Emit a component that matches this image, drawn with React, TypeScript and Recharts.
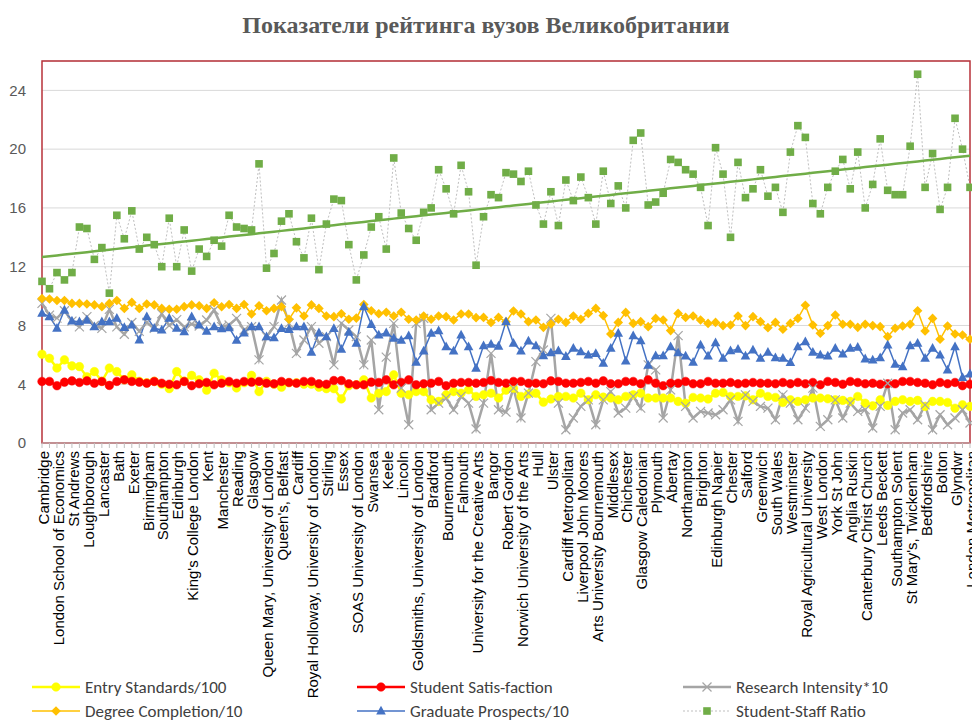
import React from "react";
import {
  ComposedChart,
  Line,
  XAxis,
  YAxis,
  CartesianGrid,
  ReferenceArea,
} from "recharts";

// university order as in the ranking (every other name is shown on the axis)
const UNIVERSITIES = [
  "Cambridge", "Oxford", "London School of Economics", "Imperial College London", "St Andrews",
  "Durham", "Loughborough", "Warwick", "Lancaster", "University College London",
  "Bath", "Surrey", "Exeter", "Leicester", "Birmingham",
  "York", "Southampton", "Bristol", "Edinburgh", "Nottingham",
  "King's College London", "Sussex", "Kent", "Leeds", "Manchester",
  "Newcastle", "Reading", "Sheffield", "Glasgow", "Aston",
  "Queen Mary, University of London", "East Anglia", "Queen's, Belfast", "Liverpool", "Cardiff",
  "Aberdeen", "Royal Holloway, University of London", "Dundee", "Stirling", "City",
  "Essex", "Heriot-Watt", "SOAS University of London", "Strathclyde", "Swansea",
  "Coventry", "Keele", "Harper Adams", "Lincoln", "Nottingham Trent",
  "Goldsmiths, University of London", "Oxford Brookes", "Bradford", "Aberystwyth", "Bournemouth",
  "Huddersfield", "Falmouth", "Sheffield Hallam", "University for the Creative Arts", "Edge Hill",
  "Bangor", "Portsmouth", "Robert Gordon", "Northumbria", "Norwich University of the Arts",
  "Manchester Metropolitan", "Hull", "Gloucestershire", "Ulster", "Kingston",
  "Cardiff Metropolitan", "Winchester", "Liverpool John Moores", "Derby", "Arts University Bournemouth",
  "Queen Margaret", "Middlesex", "Teesside", "Chichester", "Liverpool Hope",
  "Glasgow Caledonian", "Worcester", "Plymouth", "Bath Spa", "Abertay",
  "Birmingham City", "Northampton", "Staffordshire", "Brighton", "Central Lancashire",
  "Edinburgh Napier", "Sunderland", "Chester", "Hertfordshire", "Salford",
  "West of England", "Greenwich", "Bishop Grosseteste", "South Wales", "Cumbria",
  "Westminster", "Wolverhampton", "Royal Agricultural University", "De Montfort", "West London",
  "Roehampton", "York St John", "Leeds Trinity", "Anglia Ruskin", "Newman",
  "Canterbury Christ Church", "London South Bank", "Leeds Beckett", "Highlands and Islands", "Southampton Solent",
  "West of Scotland", "St Mary's, Twickenham", "Buckinghamshire New", "Bedfordshire", "East London",
  "Bolton", "Wales Trinity St David", "Glyndwr", "Suffolk", "London Metropolitan",
];

const ENTRY_STANDARDS = [
  6.04, 5.77, 5.1, 5.66, 5.25, 5.2, 4.5, 4.86, 4.2, 5.1,
  4.86, 4.3, 4.64, 4.2, 4.1, 4.2, 4.0, 3.7, 4.86, 4.2,
  4.6, 4.3, 3.6, 4.75, 4.3, 4.1, 3.75, 4.1, 4.6, 3.5,
  4.2, 4.0, 3.8, 4.1, 4.1, 4.0, 4.0, 3.8, 3.7, 3.7,
  3.0, 3.9, 3.96, 4.3, 3.06, 3.39, 3.5, 4.64, 3.39, 3.28,
  3.5, 3.5, 2.94, 2.83, 3.28, 3.5, 3.39, 3.62, 3.17, 3.28,
  3.39, 3.06, 3.6, 3.73, 3.17, 3.33, 3.39, 2.78, 2.99, 3.17,
  3.17, 3.06, 3.39, 2.94, 3.28, 3.12, 3.06, 2.94, 3.17, 3.28,
  3.39, 3.06, 3.06, 3.06, 3.06, 2.83, 2.71, 3.1, 3.06, 2.99,
  3.39, 3.44, 3.17, 3.17, 3.21, 2.94, 3.39, 3.17, 3.1, 2.76,
  2.94, 2.83, 2.94, 3.06, 3.06, 3.01, 2.94, 2.9, 2.83, 3.17,
  2.71, 2.53, 2.94, 2.56, 2.83, 2.94, 2.83, 2.9, 2.49, 2.83,
  2.83, 2.76, 2.37, 2.6, 2.49,
];

const STUDENT_SATISFACTION = [
  4.19, 4.19, 3.9, 4.14, 4.23, 4.12, 4.23, 4.07, 4.19, 3.92,
  4.19, 4.3, 4.19, 4.14, 4.07, 4.19, 4.07, 4.0, 3.96, 4.19,
  3.9, 4.03, 4.12, 3.96, 4.07, 4.19, 4.07, 4.19, 4.14, 4.19,
  4.07, 4.03, 4.19, 4.12, 4.07, 4.19, 4.19, 4.03, 4.0, 4.25,
  4.25, 4.03, 3.96, 3.96, 4.14, 4.12, 4.3, 3.96, 4.12, 4.3,
  3.96, 4.03, 4.07, 4.19, 3.9, 4.07, 4.12, 4.12, 4.07, 4.12,
  4.25, 4.12, 4.07, 4.19, 4.19, 4.07, 4.07, 4.03, 4.23, 4.19,
  4.07, 4.07, 4.12, 4.19, 4.07, 4.23, 4.03, 4.03, 4.19, 4.19,
  4.03, 4.3, 4.07, 3.9, 4.07, 4.07, 4.19, 4.03, 4.03, 4.19,
  4.07, 4.07, 4.12, 4.03, 4.07, 4.12, 4.07, 4.07, 4.03, 4.12,
  4.03, 4.12, 4.03, 4.12, 3.96, 4.19, 4.12, 4.0, 4.19, 4.12,
  4.03, 4.07, 4.0, 4.03, 4.03, 4.19, 4.19, 4.12, 4.07, 3.96,
  4.12, 4.03, 4.12, 3.9, 4.0,
];

const RESEARCH_INTENSITY = [
  9.5, 8.7, 8.5, 9.0, 8.3, 7.9, 8.6, 8.0, 7.8, 9.1,
  7.9, 7.4, 8.2, 7.6, 8.2, 7.8, 8.8, 8.0, 8.4, 7.9,
  8.1, 7.96, 8.37, 9.05, 7.92, 8.03, 8.48, 7.69, 7.92, 5.66,
  7.24, 7.92, 9.73, 8.14, 6.1, 7.01, 7.92, 6.79, 7.24, 5.32,
  8.14, 7.69, 7.24, 5.32, 7.01, 2.26, 5.84, 8.14, 3.73, 1.24,
  8.14, 8.48, 2.26, 2.71, 3.05, 2.26, 3.17, 2.71, 0.95, 2.71,
  6.1, 2.26, 2.1, 3.73, 1.7, 3.39, 5.54, 6.33, 8.48, 2.71,
  0.9, 1.7, 2.49, 2.94, 1.24, 2.94, 3.5, 2.04, 2.37, 3.17,
  2.37, 5.32, 4.98, 1.7, 3.62, 7.31, 2.49, 1.7, 2.15, 2.04,
  1.92, 2.26, 2.94, 1.47, 3.28, 2.83, 2.49, 2.37, 1.58, 3.28,
  2.71, 1.58, 2.37, 3.73, 1.13, 1.58, 2.94, 1.7, 2.71, 2.15,
  2.26, 1.02, 2.49, 4.07, 0.9, 2.04, 2.26, 1.58, 2.6, 0.9,
  1.92, 1.24, 1.7, 2.26, 1.36,
];

const DEGREE_COMPLETION = [
  9.84, 9.8, 9.7, 9.7, 9.5, 9.5, 9.46, 9.4, 9.28, 9.5,
  9.7, 9.16, 9.57, 9.16, 9.46, 9.4, 9.16, 9.1, 9.1, 9.28,
  9.4, 9.34, 9.16, 9.55, 9.27, 9.43, 9.16, 9.43, 8.78, 9.34,
  9.0, 9.16, 9.27, 8.42, 9.2, 8.64, 9.4, 9.16, 8.64, 8.6,
  8.8, 8.42, 8.5, 9.43, 9.0, 8.8, 8.9, 8.64, 8.9, 8.42,
  8.37, 8.64, 8.42, 8.64, 8.6, 8.37, 8.78, 8.78, 8.53, 8.55,
  8.2, 8.55, 8.25, 8.98, 8.78, 8.26, 8.37, 7.87, 8.1, 8.42,
  8.21, 8.64, 8.42, 8.82, 9.16, 8.67, 7.42, 8.21, 8.89, 8.14,
  8.26, 7.92, 8.48, 8.37, 7.65, 8.82, 8.55, 8.64, 8.37, 8.14,
  8.21, 7.99, 8.03, 8.64, 7.99, 8.6, 8.26, 7.85, 8.21, 7.74,
  8.14, 8.48, 9.38, 8.03, 7.47, 7.99, 8.71, 8.08, 8.08, 7.87,
  8.08, 7.99, 7.92, 7.24, 7.81, 7.96, 8.08, 9.0, 7.62, 8.48,
  7.06, 7.96, 7.42, 7.35, 7.06,
];

const GRADUATE_PROSPECTS = [
  8.83, 8.6, 7.81, 9.05, 8.31, 8.26, 8.37, 7.92, 8.26, 8.26,
  8.49, 7.86, 8.03, 7.01, 8.6, 7.81, 7.69, 8.49, 7.81, 7.58,
  8.6, 8.03, 7.62, 7.92, 7.78, 7.85, 7.0, 7.5, 7.92, 7.92,
  7.24, 7.17, 7.8, 7.74, 7.92, 7.92, 6.18, 7.5, 7.24, 7.8,
  6.38, 7.55, 6.8, 9.28, 8.08, 7.35, 7.5, 7.13, 7.0, 7.3,
  5.5, 6.27, 7.47, 7.65, 6.56, 6.27, 7.35, 6.56, 5.1, 6.63,
  6.72, 6.6, 8.26, 6.79, 6.27, 6.95, 6.63, 5.95, 6.15, 6.29,
  5.9, 6.45, 6.22, 6.0, 6.1, 5.43, 6.45, 7.47, 5.59, 7.3,
  6.97, 5.3, 5.95, 5.95, 6.56, 6.15, 5.93, 5.5, 6.67, 5.93,
  6.83, 5.77, 6.29, 6.38, 5.93, 6.33, 5.77, 6.18, 5.81, 5.77,
  5.48, 6.56, 6.9, 6.18, 6.0, 5.93, 6.45, 6.06, 6.45, 6.52,
  5.73, 5.66, 5.81, 6.67, 5.36, 5.2, 6.63, 6.79, 5.77, 6.45,
  6.0, 4.98, 6.56, 4.46, 4.71,
];

const STUDENT_STAFF_RATIO = [
  11.0, 10.5, 11.6, 11.1, 11.6, 14.7, 14.6, 12.5, 13.3, 10.2,
  15.5, 13.9, 15.8, 13.2, 14.0, 13.5, 12.0, 15.3, 12.0, 14.5,
  11.7, 13.2, 12.7, 13.8, 13.4, 15.5, 14.7, 14.6, 14.5, 19.0,
  11.9, 12.9, 15.1, 15.6, 13.7, 12.6, 15.3, 11.8, 14.9, 16.6,
  16.5, 13.5, 11.1, 12.8, 14.7, 15.4, 13.2, 19.4, 15.65, 14.6,
  13.8, 15.7, 16.0, 18.6, 17.3, 15.6, 18.9, 17.1, 12.1, 15.4,
  16.9, 16.7, 18.4, 18.3, 17.8, 18.5, 16.2, 14.9, 17.1, 14.8,
  17.9, 16.5, 18.1, 16.7, 14.9, 18.5, 16.3, 17.5, 16.0, 20.6,
  21.1, 16.2, 16.4, 17.0, 19.3, 19.1, 18.6, 18.3, 17.4, 14.8,
  20.1, 18.3, 14.0, 19.1, 16.7, 17.3, 18.6, 16.8, 17.4, 15.7,
  19.8, 21.6, 20.8, 16.3, 15.6, 17.4, 18.5, 19.3, 17.3, 19.8,
  16.0, 17.6, 20.7, 17.2, 16.9, 16.9, 20.2, 25.1, 17.4, 19.7,
  15.9, 17.4, 22.1, 20.0, 17.4,
];

const Y_TICKS = [0, 4, 8, 12, 16, 20, 24];

type Shape = "circle" | "diamond" | "triangle" | "square" | "cross";

const SERIES: {
  key: string;
  name: string;
  color: string;
  lineColor: string;
  width: number;
  dash?: string;
  shape: Shape;
}[] = [
  { key: "entry", name: "Entry Standards/100", color: "#FFFF00", lineColor: "#FFFF00", width: 2.5, shape: "circle" },
  { key: "satisfaction", name: "Student Satis-faction", color: "#FF0000", lineColor: "#FF0000", width: 2.5, shape: "circle" },
  { key: "research", name: "Research Intensity*10", color: "#A5A5A5", lineColor: "#A5A5A5", width: 2.5, shape: "cross" },
  { key: "completion", name: "Degree Completion/10", color: "#FFC000", lineColor: "#FFC000", width: 1.5, shape: "diamond" },
  { key: "prospects", name: "Graduate Prospects/10", color: "#4472C4", lineColor: "#4472C4", width: 1.5, shape: "triangle" },
  { key: "ssr", name: "Student-Staff Ratio", color: "#70AD47", lineColor: "#BFBFBF", width: 1, dash: "2 2", shape: "square" },
];

// linear trendline for student-staff ratio (least squares, like Excel)
const trendFit = (() => {
  const n = STUDENT_STAFF_RATIO.length;
  const mx = (n - 1) / 2;
  const my = STUDENT_STAFF_RATIO.reduce((a, b) => a + b, 0) / n;
  let sxy = 0;
  let sxx = 0;
  STUDENT_STAFF_RATIO.forEach((v, i) => {
    sxy += (i - mx) * (v - my);
    sxx += (i - mx) * (i - mx);
  });
  const slope = sxy / sxx;
  return { slope, intercept: my - slope * mx };
})();

const data = UNIVERSITIES.map((name, i) => ({
  name,
  entry: ENTRY_STANDARDS[i],
  satisfaction: STUDENT_SATISFACTION[i],
  research: RESEARCH_INTENSITY[i],
  completion: DEGREE_COMPLETION[i],
  prospects: GRADUATE_PROSPECTS[i],
  ssr: STUDENT_STAFF_RATIO[i],
  trend: trendFit.intercept + trendFit.slope * i,
}));

const AXIS_FONT = "'Liberation Sans', Arial, sans-serif";
const LEGEND_FONT = "Carlito, 'Liberation Sans Narrow', 'Liberation Sans', sans-serif";

function Marker({ shape, cx, cy, color }: { shape: Shape; cx: number; cy: number; color: string }) {
  switch (shape) {
    case "circle":
      return <circle cx={cx} cy={cy} r={4.3} fill={color} stroke={color} strokeWidth={0.5} />;
    case "diamond":
      return (
        <polygon
          points={`${cx},${cy - 4.8} ${cx + 4.8},${cy} ${cx},${cy + 4.8} ${cx - 4.8},${cy}`}
          fill={color}
        />
      );
    case "triangle":
      return (
        <polygon points={`${cx},${cy - 5.2} ${cx + 4.8},${cy + 3.6} ${cx - 4.8},${cy + 3.6}`} fill={color} />
      );
    case "square":
      return <rect x={cx - 3.8} y={cy - 3.8} width={7.6} height={7.6} fill={color} />;
    case "cross":
      return (
        <g stroke={color} strokeWidth={1.2}>
          <line x1={cx - 4.5} y1={cy - 4.5} x2={cx + 4.5} y2={cy + 4.5} />
          <line x1={cx - 4.5} y1={cy + 4.5} x2={cx + 4.5} y2={cy - 4.5} />
        </g>
      );
  }
  return null;
}

const makeDot = (shape: Shape, color: string) => (props: any) => {
  const { cx, cy, index } = props;
  if (cx == null || cy == null) return <g key={`dot-${index}`} />;
  return (
    <g key={`dot-${index}`}>
      <Marker shape={shape} cx={cx} cy={cy} color={color} />
    </g>
  );
};

const CategoryTick = (props: any) => {
  const { x, y, payload } = props;
  const i = payload?.index ?? props.index ?? 0;
  if (i % 2 !== 0) return <g />;
  return (
    <text
      x={x}
      y={y}
      transform={`rotate(-90, ${x}, ${y})`}
      textAnchor="end"
      dy="0.45em"
      fontSize={15}
      fontFamily={AXIS_FONT}
      fill="#000"
    >
      {payload.value}
    </text>
  );
};

const LEGEND_COLS = [32, 357, 683];
const LEGEND_ROWS = [687, 711];

function LegendItem({ s, left, top }: { s: (typeof SERIES)[number]; left: number; top: number }) {
  return (
    <div
      style={{
        position: "absolute",
        left,
        top: top - 10,
        height: 20,
        display: "flex",
        alignItems: "center",
        fontFamily: LEGEND_FONT,
        fontSize: 17,
        color: "#404040",
        whiteSpace: "nowrap",
      }}
    >
      <svg width={48} height={20} style={{ display: "block" }}>
        <line
          x1={0}
          y1={10}
          x2={48}
          y2={10}
          stroke={s.lineColor}
          strokeWidth={s.width}
          strokeDasharray={s.dash}
        />
        <Marker shape={s.shape} cx={24} cy={10} color={s.color} />
      </svg>
      <span style={{ marginLeft: 5 }}>{s.name}</span>
    </div>
  );
}

export default function App() {
  return (
    <div
      style={{
        position: "absolute",
        left: 0,
        top: 0,
        width: 972,
        height: 725,
        background: "#fff",
        overflow: "hidden",
      }}
    >
      <ComposedChart
        width={972}
        height={725}
        data={data}
        margin={{ top: 61, right: 2, bottom: 0, left: 0 }}
      >
        <CartesianGrid vertical={false} stroke="#D9D9D9" strokeWidth={1} />
        <XAxis
          dataKey="name"
          interval={0}
          height={282}
          tick={<CategoryTick />}
          tickSize={5}
          tickMargin={3}
          tickLine={{ stroke: "#BFBFBF" }}
          axisLine={{ stroke: "#BFBFBF" }}
        />
        <YAxis
          type="number"
          domain={[0, 26]}
          ticks={Y_TICKS}
          width={42}
          axisLine={false}
          tickLine={false}
          tickSize={0}
          tickMargin={16}
          tick={{ fill: "#595959", fontSize: 15, fontFamily: AXIS_FONT }}
        />
        {SERIES.map((s) => (
          <Line
            key={s.key}
            type="linear"
            dataKey={s.key}
            name={s.name}
            stroke={s.lineColor}
            strokeWidth={s.width}
            strokeDasharray={s.dash}
            dot={makeDot(s.shape, s.color)}
            activeDot={false}
            isAnimationActive={false}
          />
        ))}
        <Line
          type="linear"
          dataKey="trend"
          stroke="#70AD47"
          strokeWidth={2.5}
          dot={false}
          activeDot={false}
          legendType="none"
          isAnimationActive={false}
        />
        <ReferenceArea
          y1={0}
          y2={26}
          fill="none"
          fillOpacity={0}
          stroke="#B8323A"
          strokeWidth={1.5}
        />
      </ComposedChart>
      <div
        style={{
          position: "absolute",
          left: 0,
          top: 10,
          width: 972,
          textAlign: "center",
          fontFamily: "'Liberation Serif', 'Times New Roman', serif",
          fontWeight: "bold",
          fontSize: 24,
          lineHeight: "30px",
          color: "#595959",
        }}
      >
        Показатели рейтинга вузов Великобритании
      </div>
      {SERIES.map((s, i) => (
        <LegendItem
          key={s.key}
          s={s}
          left={LEGEND_COLS[i % 3]}
          top={LEGEND_ROWS[Math.floor(i / 3)]}
        />
      ))}
    </div>
  );
}
